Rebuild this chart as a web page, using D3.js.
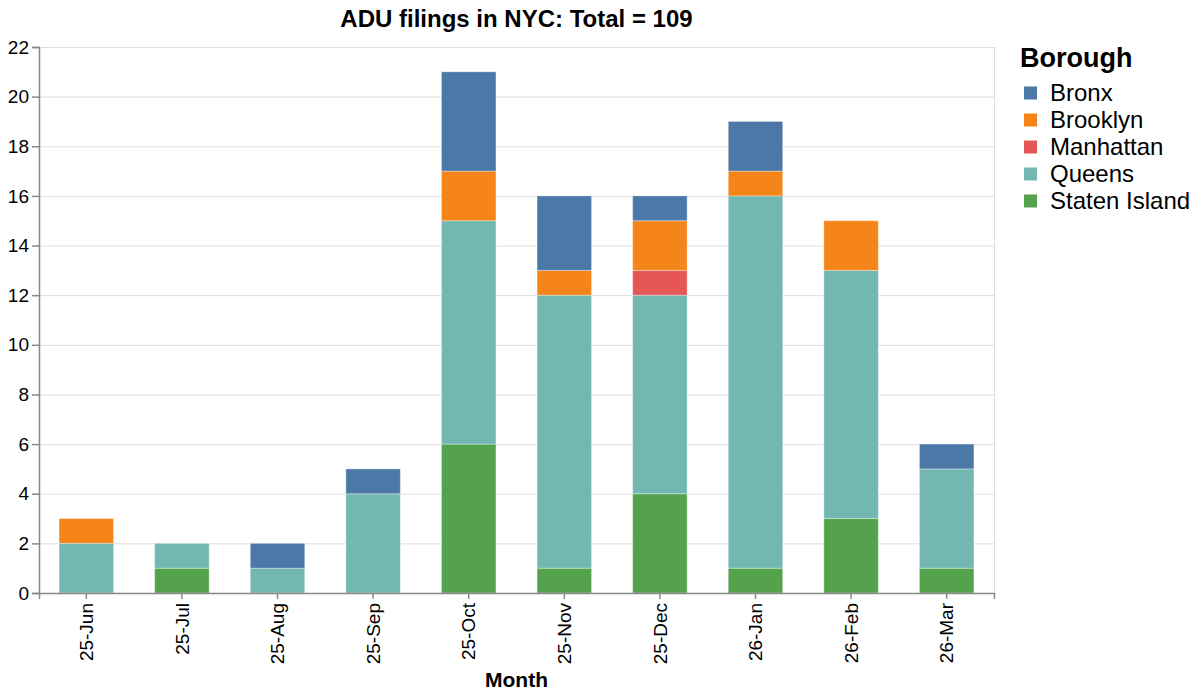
<!DOCTYPE html>
<html>
<head>
<meta charset="utf-8">
<script src="https://cdn.jsdelivr.net/npm/d3@7"></script>
<style>
  body { margin: 0; background: #fff; }
  text { font-family: "Liberation Sans", Arial, Helvetica, sans-serif; }
</style>
</head>
<body>
<div id="chart"></div>
<script>
// Data
const months = ["25-Jun", "25-Jul", "25-Aug", "25-Sep", "25-Oct", "25-Nov", "25-Dec", "26-Jan", "26-Feb", "26-Mar"];
const boroughs = ["Bronx", "Brooklyn", "Manhattan", "Queens", "Staten Island"];
const boroughColors = ["#4c78a8", "#f58518", "#e45756", "#72b7b2", "#54a24b"];

const bronx        = [0, 0, 1, 1, 4, 3, 1, 2, 0, 1];
const brooklyn     = [1, 0, 0, 0, 2, 1, 2, 1, 2, 0];
const manhattan    = [0, 0, 0, 0, 0, 0, 1, 0, 0, 0];
const queens       = [2, 1, 1, 4, 9, 11, 8, 15, 10, 4];
const statenIsland = [0, 1, 0, 0, 6, 1, 4, 1, 3, 1];

const yTicks = [0, 2, 4, 6, 8, 10, 12, 14, 16, 18, 20, 22];
const titleText = "ADU filings in NYC: Total = 109";

// Build table for d3.stack
const table = months.map((m, i) => ({
    month: m,
    "Bronx": bronx[i],
    "Brooklyn": brooklyn[i],
    "Manhattan": manhattan[i],
    "Queens": queens[i],
    "Staten Island": statenIsland[i]
}));

const W = 1200, H = 699;
const margin = {top: 47, right: 206, bottom: 106, left: 39};
const width = W - margin.left - margin.right,
    height = H - margin.top - margin.bottom;

const svg = d3.select("#chart")
    .append("svg")
    .attr("width", W)
    .attr("height", H);

const g = svg.append("g")
    .attr("transform", `translate(${margin.left},${margin.top})`);

// Scales
const x = d3.scaleBand()
    .domain(months)
    .range([0, width])
    .paddingInner(0.43)
    .paddingOuter(0.21);

const y = d3.scaleLinear()
    .domain([0, 22])
    .range([height, 0]);

const color = d3.scaleOrdinal()
    .domain(boroughs)
    .range(boroughColors);

// Grid lines
g.append("g")
    .selectAll("line")
    .data(yTicks)
    .join("line")
    .attr("x1", 0)
    .attr("x2", width)
    .attr("y1", d => y(d) + 0.5)
    .attr("y2", d => y(d) + 0.5)
    .attr("stroke", "#ddd");

// View border on the right
g.append("line")
    .attr("x1", width + 0.5).attr("x2", width + 0.5)
    .attr("y1", 0).attr("y2", height)
    .attr("stroke", "#ddd");

// Stacked bars: Staten Island at the bottom, Bronx at the top
const stack = d3.stack()
    .keys(["Staten Island", "Queens", "Manhattan", "Brooklyn", "Bronx"]);
const series = stack(table);

g.append("g")
    .selectAll("g")
    .data(series)
    .join("g")
    .attr("fill", d => color(d.key))
    .selectAll("rect")
    .data(d => d.filter(s => s[1] - s[0] > 0))
    .join("rect")
    .attr("x", d => x(d.data.month))
    .attr("width", x.bandwidth())
    .attr("y", d => y(d[1]))
    .attr("height", d => y(d[0]) - y(d[1]))
    .attr("stroke", "#ffffff")
    .attr("stroke-opacity", 0.35)
    .attr("stroke-width", 1);

// Axes
const yAxis = g.append("g")
    .call(d3.axisLeft(y).tickValues(yTicks).tickSize(7).tickPadding(3));
const xAxis = g.append("g")
    .attr("transform", `translate(0,${height})`)
    .call(d3.axisBottom(x).tickSize(6).tickPadding(3));

[yAxis, xAxis].forEach(a => {
    a.select(".domain").attr("stroke", "#888").attr("stroke-width", 1.5);
    a.selectAll(".tick line").attr("stroke", "#888").attr("stroke-width", 1.5);
    a.selectAll(".tick text")
        .attr("fill", "#000")
        .style("font-size", "19px")
        .style("font-family", "'Liberation Sans', Arial, sans-serif");
});

xAxis.selectAll(".tick text")
    .attr("transform", "rotate(-90)")
    .attr("text-anchor", "end")
    .attr("x", -10)
    .attr("y", 0)
    .attr("dy", "0.35em");

// Title
svg.append("text")
    .attr("x", margin.left + width / 2)
    .attr("y", 27)
    .attr("text-anchor", "middle")
    .style("font-size", "24px")
    .style("font-weight", "bold")
    .text(titleText);

// X axis title
svg.append("text")
    .attr("x", margin.left + width / 2)
    .attr("y", 687)
    .attr("text-anchor", "middle")
    .style("font-size", "21px")
    .style("font-weight", "bold")
    .text("Month");

// Legend
const legend = svg.append("g")
    .attr("transform", "translate(1020,0)");

legend.append("text")
    .attr("x", 0)
    .attr("y", 67)
    .style("font-size", "27px")
    .style("font-weight", "bold")
    .text("Borough");

const legendItem = legend.selectAll(".legend")
    .data(boroughs)
    .join("g")
    .attr("class", "legend")
    .attr("transform", (d, i) => `translate(0,${93 + i * 27})`);

legendItem.append("rect")
    .attr("x", 4)
    .attr("y", -6.5)
    .attr("width", 13)
    .attr("height", 13)
    .attr("fill", d => color(d));

legendItem.append("text")
    .attr("x", 30)
    .attr("y", 0)
    .attr("dy", "0.33em")
    .style("font-size", "24px")
    .text(d => d);
</script>
</body>
</html>
